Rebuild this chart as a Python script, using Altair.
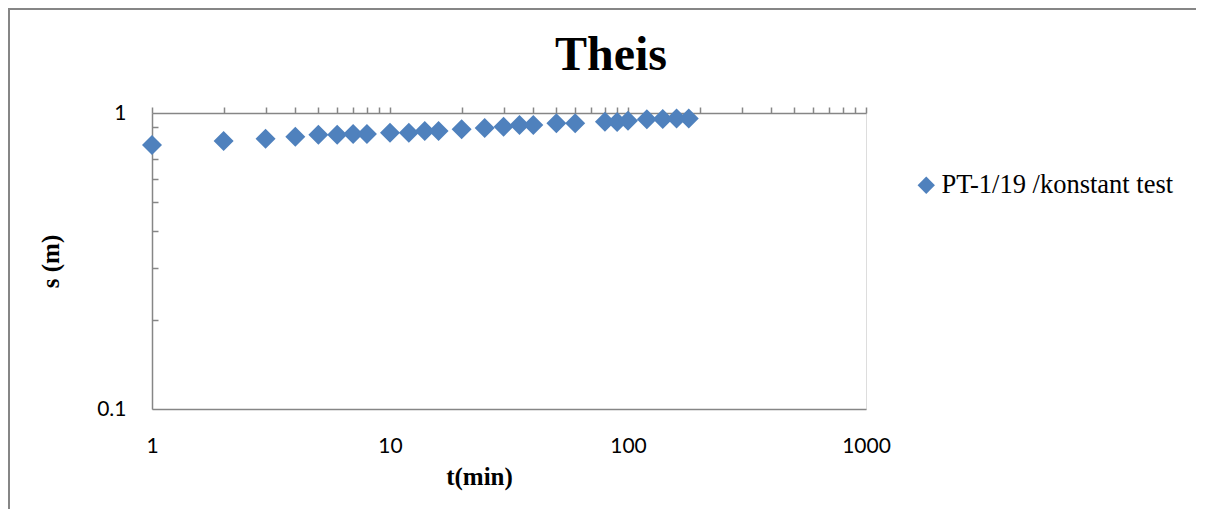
import altair as alt
import pandas as pd

# data
t_min = [1, 2, 3, 4, 5, 6, 7, 8, 10, 12, 14, 16, 20, 25, 30, 35, 40, 50, 60,
         80, 90, 100, 120, 140, 160, 180]
s_m = [0.780, 0.804, 0.819, 0.832, 0.845, 0.845, 0.849, 0.849, 0.858, 0.858,
       0.869, 0.870, 0.881, 0.890, 0.899, 0.911, 0.911, 0.923, 0.923, 0.935,
       0.933, 0.942, 0.952, 0.954, 0.959, 0.959]
series_name = "PT-1/19 /konstant test"
chart_title = "Theis"

x_labels = [1, 10, 100, 1000]
y_labels = [0.1, 1]
x_ticks = [m * d for d in [1, 10, 100] for m in range(1, 10)] + [1000]
y_ticks = [0.2, 0.3, 0.4, 0.5, 0.6, 0.7, 0.8, 0.9]

df = pd.DataFrame({"t": t_min, "s": s_m, "series": [series_name] * len(t_min)})

W, H = 714, 296
GRAY = "#868686"
xscale = alt.Scale(type="log", domain=[1, 1000], nice=False)
yscale = alt.Scale(type="log", domain=[0.1, 1], nice=False)

points = alt.Chart(df).mark_point(shape="diamond", filled=True, size=400, opacity=1).encode(
    x=alt.X("t:Q", scale=xscale,
            axis=alt.Axis(orient="bottom", values=x_labels, format="~g", ticks=False,
                          labelPadding=26, labelFont="Lato", labelFontSize=21,
                          labelColor="black", domainColor=GRAY, domainWidth=1.5,
                          grid=False, title="t(min)", titleFont="Liberation Serif",
                          titleFontSize=25, titleFontWeight="bold", titleColor="black",
                          titleX=327, titleY=75, titleBaseline="alphabetic",
                          titleAlign="center", labelFlush=False)),
    y=alt.Y("s:Q", scale=yscale,
            axis=alt.Axis(orient="left", values=y_labels, format="~g", ticks=False,
                          labelPadding=26, labelFont="Lato", labelFontSize=21,
                          labelColor="black", domainColor=GRAY, domainWidth=1.5,
                          grid=False, title="s (m)", titleFont="Liberation Serif",
                          titleFontSize=25, titleFontWeight="bold", titleColor="black",
                          titleX=-102, titleY=H / 2, titleBaseline="middle",
                          titleAlign="center", titleAngle=270, labelFlush=False)),
    color=alt.Color("series:N", scale=alt.Scale(range=["#4F81BD"]),
                    legend=alt.Legend(title=None, orient="none", legendX=761, legendY=59,
                                      symbolType="diamond", symbolSize=300,
                                      symbolStrokeWidth=0, labelFont="Liberation Serif",
                                      labelFontSize=26.5, labelColor="black",
                                      labelLimit=400, padding=0, labelOffset=2)),
)

ticks_layer = alt.Chart(df).mark_point(opacity=0).encode(
    x=alt.X("t:Q", scale=xscale,
            axis=alt.Axis(orient="top", values=x_ticks, labels=False, ticks=True,
                          tickSize=6, tickColor=GRAY, tickWidth=1.5,
                          domainColor=GRAY, domainWidth=1.5, grid=False, title=None)),
    y=alt.Y("s:Q", scale=yscale,
            axis=alt.Axis(orient="right", offset=-W, values=y_ticks, labels=False,
                          ticks=True, tickSize=6, tickColor=GRAY, tickWidth=1.5,
                          domain=False, grid=False, title=None)),
)

single = pd.DataFrame({"label": [chart_title]})
title_layer = alt.Chart(single).mark_text(
    font="Liberation Serif", fontSize=48, fontWeight="bold", color="black",
    align="center", baseline="alphabetic"
).encode(text="label:N", x=alt.value(459), y=alt.value(-43))

frame_left = alt.Chart(single).mark_rule(color=GRAY, strokeWidth=2).encode(
    x=alt.value(-143), y=alt.value(-105), y2=alt.value(H + 110))
frame_top = alt.Chart(single).mark_rule(color=GRAY, strokeWidth=2).encode(
    x=alt.value(-144), x2=alt.value(W + 330), y=alt.value(-104))

chart = alt.layer(points, ticks_layer, title_layer, frame_left, frame_top).resolve_axis(
    x="independent", y="independent"
).properties(
    width=W, height=H,
    autosize=alt.AutoSizeParams(type="none"),
    padding={"left": 144, "top": 105, "right": 330, "bottom": 100},
).configure_view(stroke=None).configure(background="white")

chart.save("out.html", embed_options={"renderer": "svg", "actions": False})
